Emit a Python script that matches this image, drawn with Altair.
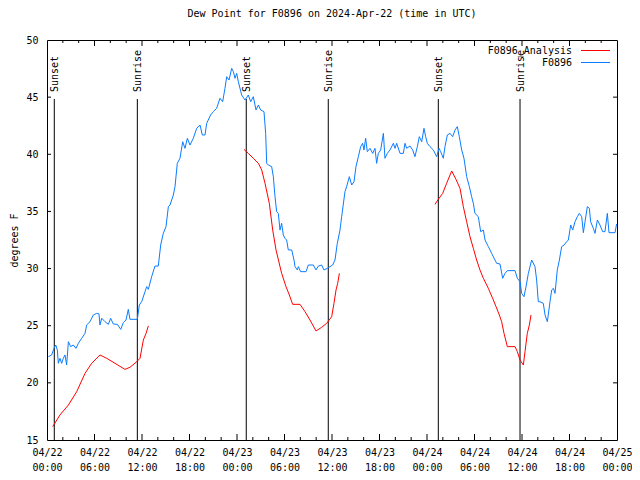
import altair as alt
import pandas as pd

# ---------------- data (hours after 2024-04-22 00:00 UTC) ----------------
f0896_hours = [0.17, 0.59, 0.88, 1.10, 1.31, 1.43, 1.64, 1.85, 2.06, 2.27, 2.48, 2.70, 2.99, 3.33, 3.66, 3.96,
               4.38, 4.80, 5.01, 5.43, 5.85, 6.27, 6.57, 6.69, 6.91, 7.33, 7.75, 8.04, 8.38, 8.88, 9.31, 9.64,
               9.98, 10.27, 10.48, 11.41, 11.66, 11.96, 12.38, 12.59, 12.80, 13.22, 13.64, 14.06, 14.36, 14.69,
               15.03, 15.33, 15.54, 15.96, 16.17, 16.46, 16.80, 17.14, 17.43, 17.73, 18.06, 18.48, 18.91, 19.33,
               19.62, 19.96, 20.17, 20.67, 21.01, 21.43, 21.85, 22.19, 22.48, 22.70, 22.99,
               23.33, 23.54, 23.75, 23.96, 24.17, 24.59, 25.01, 25.43, 25.73, 26.06, 26.40, 26.70, 26.99, 27.41,
               27.62, 27.75, 27.96, 28.38, 28.59, 28.80, 29.01, 29.22, 29.43, 29.64, 29.85, 30.06, 30.27, 30.48,
               30.91, 31.20, 31.33, 31.62, 31.75, 32.04, 32.72, 33.01, 33.64, 33.98, 34.27, 34.69, 34.99, 35.41,
               35.75, 36.08, 36.38, 36.67, 37.01, 37.22, 37.64, 37.85, 38.19, 38.49, 38.78, 39.03, 39.33, 39.62,
               39.87, 40.04, 40.25, 40.46, 40.80, 41.14, 41.43, 41.64, 41.85, 42.15, 42.49, 42.69, 42.99, 43.33,
               43.75, 43.96, 44.17, 44.59, 45.01, 45.22, 45.43, 45.85, 46.19, 46.48, 46.78, 47.03, 47.33, 47.62,
               47.83,
               48.04, 48.38, 48.80, 49.22, 49.52, 49.73, 50.06, 50.27, 50.57, 50.91, 51.24, 51.54, 51.83, 52.08,
               52.38, 52.67, 53.01, 53.35, 53.64, 53.85, 54.06, 54.48, 54.78, 55.12, 55.33, 55.75, 56.17, 56.80,
               57.22, 57.56, 57.85, 58.15, 59.12, 59.41, 59.75, 59.96, 60.25, 60.51, 60.80, 61.22, 61.64, 61.85,
               62.06, 62.27, 62.69, 62.91, 63.20, 63.54, 63.75, 63.96, 64.17, 64.46, 64.72, 65.01, 65.31, 65.64,
               65.85, 66.15, 66.40, 66.70, 66.99, 67.24, 67.54, 67.75, 67.96, 68.25, 68.51, 68.67, 69.01, 69.22,
               69.52, 69.85, 70.19, 70.48, 70.78, 70.99, 71.75, 71.95]
f0896_dewpt = [22.29, 22.44, 23.02, 23.31, 22.87, 21.71, 22.15, 21.71, 22.15, 22.44, 21.56, 23.60, 23.17, 23.31, 23.02, 23.46,
               23.90, 24.33, 25.06, 25.35, 25.94, 26.08, 26.03, 25.06, 25.65, 25.35, 25.12, 25.65, 25.15, 25.12, 24.68, 25.27,
               25.50, 26.43, 25.56, 25.56, 26.81, 27.10, 27.98, 28.42, 28.18, 29.29, 30.22, 30.22, 32.06, 33.08,
               33.67, 35.42, 35.56, 36.44, 37.17, 39.21, 39.65, 41.10, 40.52, 41.40, 40.81, 41.40, 42.27, 42.56,
               41.69, 41.69, 42.71, 43.44, 43.73, 44.02, 44.90, 44.60, 45.77, 46.79, 46.50,
               47.52, 47.23, 46.65, 47.08, 46.35, 45.19, 44.75, 45.19, 44.60, 45.04, 43.88, 44.31, 43.88, 43.73,
               41.83, 39.21, 39.06, 38.92, 38.04, 36.29, 34.98, 34.83, 33.37, 33.96, 32.94, 32.65, 32.50, 31.63,
               31.63, 30.75, 30.17, 29.88, 30.17, 29.73, 29.73, 30.31, 30.31, 29.88, 30.22, 30.31, 29.88, 30.02,
               30.17, 30.31, 30.75, 32.21, 33.37, 34.54, 36.73, 37.17, 38.04, 37.31, 37.60, 38.92, 39.79, 40.67,
               40.96, 40.38, 41.40, 40.23, 40.52, 40.08, 40.52, 39.21, 40.08, 40.38, 41.83, 39.65, 40.08, 40.38,
               40.96, 40.52, 40.96, 40.08, 40.08, 40.96, 40.52, 40.73, 40.38, 39.79, 40.67, 41.54, 41.10, 42.27,
               41.54,
               40.96, 40.67, 40.38, 39.79, 40.52, 40.23, 39.65, 40.67, 41.69, 41.83, 41.54, 42.12, 42.42, 41.54,
               40.38, 39.65, 38.04, 37.17, 36.29, 35.71, 34.83, 34.54, 33.23, 33.37, 32.50, 31.92, 31.33, 30.46,
               30.40, 29.15, 29.58, 29.82, 29.82, 29.15, 28.85, 27.83, 27.54, 28.42, 29.58, 30.75, 30.17, 29.00,
               27.10, 27.10, 26.96, 25.94, 25.35, 27.10, 28.13, 28.27, 27.83, 29.88, 30.75, 31.92, 32.06, 32.35,
               32.50, 33.81, 33.37, 34.10, 34.54, 34.83, 34.54, 33.14, 34.10, 35.42, 35.27, 34.10, 33.52, 33.08,
               34.25, 33.81, 33.23, 33.23, 34.83, 33.14, 33.14, 33.90]

analysis_hours = [
    [0.72, 1.64, 2.70, 3.75, 4.80, 5.64, 6.69, 7.54, 8.59, 9.85, 10.48, 11.33, 11.75, 12.17, 12.51, 12.80],
    [24.88, 25.43, 26.06, 26.70, 27.12, 27.54, 28.08, 28.51, 28.93, 29.64, 30.19, 30.61, 31.03, 31.96, 32.59,
     33.22, 33.98, 34.69, 35.33, 35.96, 36.25, 36.51, 36.72, 36.93],
    [49.01, 49.43, 49.98, 50.48, 51.12, 51.66, 52.17, 52.59, 53.01, 53.43, 53.85, 54.27, 54.69, 55.12, 55.75,
     56.29, 56.72, 57.14, 57.43, 57.73, 58.15, 59.12, 59.41, 59.75, 60.17, 60.38, 60.67, 60.93, 61.14],
]
analysis_dewpt = [
    [16.17, 17.19, 18.06, 19.23, 20.83, 21.71, 22.44, 22.15, 21.71, 21.18, 21.36, 21.85, 22.15, 23.75, 24.33, 24.98],
    [40.43, 40.08, 39.65, 39.21, 38.63, 37.46, 35.71, 33.37, 31.63, 29.58, 28.42, 27.69, 26.87, 26.87, 26.23,
     25.50, 24.54, 24.86, 25.21, 25.79, 26.96, 28.13, 28.71, 29.58],
    [35.62, 36.06, 36.58, 37.46, 38.54, 37.81, 37.02, 35.42, 34.10, 32.79, 31.77, 30.75, 29.88, 29.15, 28.27,
     27.40, 26.67, 25.94, 25.35, 24.33, 23.17, 23.17, 22.73, 22.00, 21.56, 22.73, 24.33, 25.06, 25.94],
]

sun_hours = [0.92, 11.41, 25.17, 35.53, 49.43, 59.75]
sun_labels = ["Sunset", "Sunrise", "Sunset", "Sunrise", "Sunset", "Sunrise"]

series_names = ["F0896_Analysis", "F0896"]
series_colors = ["#ff0000", "#0a7cff"]

y_ticks = [15, 20, 25, 30, 35, 40, 45, 50]
x_major_hours = list(range(0, 73, 6))
x_minor_hours = [h for h in range(0, 73, 2) if h % 6 != 0]

TITLE = "Dew Point for F0896 on 2024-Apr-22 (time in UTC)"
FONT = "DejaVu Sans Mono"

# ---------------- helpers ----------------
BASE = pd.Timestamp("2024-04-22T00:00:00", tz="UTC")


def ms(h):
    return int((BASE + pd.Timedelta(hours=h)).timestamp() * 1000)


W, H = 570, 400

rows = []
for h, v in zip(f0896_hours, f0896_dewpt):
    rows.append({"t": ms(h), "v": v, "series": "F0896", "seg": "obs"})
for i, (hs, vs) in enumerate(zip(analysis_hours, analysis_dewpt)):
    for h, v in zip(hs, vs):
        rows.append({"t": ms(h), "v": v, "series": "F0896_Analysis", "seg": f"an{i}"})
df = pd.DataFrame(rows)

sun_df = pd.DataFrame({"t": [ms(h) for h in sun_hours], "label": sun_labels})
xmaj_df = pd.DataFrame({"t": [ms(h) for h in x_major_hours[1:-1]]})
xmin_df = pd.DataFrame({"t": [ms(h) for h in x_minor_hours]})
ytick_df = pd.DataFrame({"v": y_ticks[1:-1]})

xscale = alt.Scale(type="utc", domain=[ms(0), ms(72)])
yscale = alt.Scale(domain=[15, 50], nice=False, zero=False)

x_axis = alt.Axis(
    values=[ms(h) for h in x_major_hours],
    labelExpr="[utcFormat(datum.value, '%m/%d'), utcFormat(datum.value, '%H:%M')]",
    ticks=False, tickSize=0, domain=False, grid=False, title=None,
    labelFont=FONT, labelFontSize=10, labelColor="black", labelPadding=7,
    labelLineHeight=15, labelFlush=False, labelOverlap=False,
)
y_axis = alt.Axis(
    values=y_ticks, ticks=False, tickSize=0, domain=False, grid=False,
    title="degrees F", titleFont=FONT, titleFontSize=10, titleFontWeight="normal",
    titleColor="black", titleX=-33, titleY=200, titleAngle=270,
    titleAlign="center", titleBaseline="middle",
    labelFont=FONT, labelFontSize=10, labelColor="black", labelPadding=9,
)

X = alt.X("t:T", scale=xscale, axis=x_axis)
Y = alt.Y("v:Q", scale=yscale, axis=y_axis)

lines = alt.Chart(df).mark_line(strokeWidth=1, interpolate="linear").encode(
    x=X, y=Y,
    color=alt.Color("series:N", scale=alt.Scale(domain=series_names, range=series_colors), legend=None),
    detail="seg:N",
    order=alt.Order("t:Q"),
)

sun_rules = alt.Chart(sun_df).mark_rule(color="black", strokeWidth=1).encode(
    x=X, y=alt.value(59), y2=alt.value(H),
)
sun_text = alt.Chart(sun_df).mark_text(
    angle=270, align="left", baseline="middle", font=FONT, fontSize=10, color="black", dy=1,
).encode(
    x=X, y=alt.value(52), text="label:N",
)

tick_major_bottom = alt.Chart(xmaj_df).mark_rule(color="black").encode(
    x=X, y=alt.value(H), y2=alt.value(H - 6))
tick_major_top = alt.Chart(xmaj_df).mark_rule(color="black").encode(
    x=X, y=alt.value(0), y2=alt.value(6))
tick_minor_bottom = alt.Chart(xmin_df).mark_rule(color="black").encode(
    x=X, y=alt.value(H), y2=alt.value(H - 3))
tick_minor_top = alt.Chart(xmin_df).mark_rule(color="black").encode(
    x=X, y=alt.value(0), y2=alt.value(3))
tick_y_left = alt.Chart(ytick_df).mark_rule(color="black").encode(
    y=Y, x=alt.value(0), x2=alt.value(4))
tick_y_right = alt.Chart(ytick_df).mark_rule(color="black").encode(
    y=Y, x=alt.value(W - 4), x2=alt.value(W))

# manual gnuplot-style key (text right-aligned, sample line to its right)
key_df = pd.DataFrame({"series": series_names})
key_text_a = alt.Chart(key_df).transform_filter(alt.datum.series == series_names[0]).mark_text(
    align="right", baseline="middle", font=FONT, fontSize=10, color="black").encode(
    x=alt.value(525), y=alt.value(10.5), text="series:N")
key_text_b = alt.Chart(key_df).transform_filter(alt.datum.series == series_names[1]).mark_text(
    align="right", baseline="middle", font=FONT, fontSize=10, color="black").encode(
    x=alt.value(525), y=alt.value(22.5), text="series:N")
key_line_a = alt.Chart(key_df).transform_filter(alt.datum.series == series_names[0]).mark_rule(
    color=series_colors[0], strokeWidth=1).encode(x=alt.value(534), x2=alt.value(563), y=alt.value(10.5))
key_line_b = alt.Chart(key_df).transform_filter(alt.datum.series == series_names[1]).mark_rule(
    color=series_colors[1], strokeWidth=1).encode(x=alt.value(534), x2=alt.value(563), y=alt.value(22.5))

chart = alt.layer(
    sun_rules, sun_text, lines,
    tick_major_bottom, tick_major_top, tick_minor_bottom, tick_minor_top, tick_y_left, tick_y_right,
    key_text_a, key_text_b, key_line_a, key_line_b,
).properties(
    width=W, height=H,
    title=alt.TitleParams(TITLE, font=FONT, fontSize=10, fontWeight="normal", color="black",
                          anchor="middle", offset=16),
    autosize=alt.AutoSizeParams(type="none"),
    padding={"left": 39, "top": 32, "right": 15, "bottom": 32},
    background="white",
).configure_view(stroke="black", strokeWidth=1)

chart.save("out.html", embed_options={"renderer": "svg", "actions": False})
